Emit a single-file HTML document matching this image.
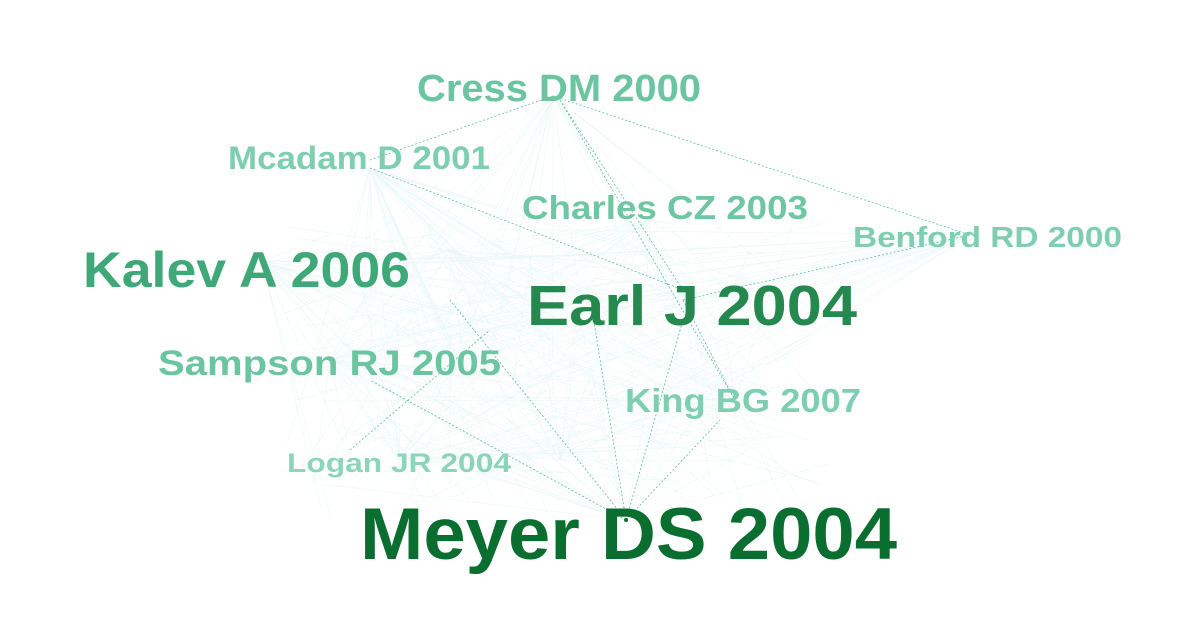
<!DOCTYPE html>
<html><head><meta charset="utf-8"><style>
html,body{margin:0;padding:0;background:#fff;}
svg{display:block;}
text{font-family:"Liberation Sans",Arial,sans-serif;font-weight:bold;}
</style></head><body>
<svg id="s" width="1191" height="636" viewBox="0 0 1191 636" xmlns="http://www.w3.org/2000/svg">
<g id="web" stroke="#d3efec" stroke-width="0.6" fill="none" opacity="0.45"></g>
<g stroke="#5cbf9a" stroke-width="0.8" stroke-dasharray="2 2" fill="none">
<line x1="553" y1="96" x2="970" y2="235"/>
<line x1="553" y1="96" x2="370" y2="160"/>
<line x1="560" y1="100" x2="683" y2="290"/>
<line x1="560" y1="100" x2="735" y2="400"/>
<line x1="370" y1="168" x2="683" y2="290"/>
<line x1="626" y1="520" x2="593" y2="316"/>
<line x1="626" y1="520" x2="683" y2="320"/>
<line x1="626" y1="520" x2="720" y2="420"/>
<line x1="626" y1="520" x2="370" y2="380"/>
<line x1="626" y1="520" x2="450" y2="300"/>
<line x1="683" y1="300" x2="970" y2="235"/>
<line x1="350" y1="450" x2="490" y2="330"/>
<line x1="683" y1="300" x2="735" y2="400"/>
</g>
<circle cx="626" cy="520" r="2" fill="#0b6e31"/>
<text x="417" y="101" font-size="38" fill="#6cc5a1" textLength="284" lengthAdjust="spacingAndGlyphs">Cress DM 2000</text>
<text x="228" y="169" font-size="32" fill="#7dcfb0" textLength="262" lengthAdjust="spacingAndGlyphs">Mcadam D 2001</text>
<text x="522" y="219" font-size="33" fill="#6fc6a3" textLength="286" lengthAdjust="spacingAndGlyphs">Charles CZ 2003</text>
<text x="853" y="247" font-size="29" fill="#7dcfb0" textLength="269" lengthAdjust="spacingAndGlyphs">Benford RD 2000</text>
<text x="83" y="287" font-size="50" fill="#3fa878" textLength="327" lengthAdjust="spacingAndGlyphs">Kalev A 2006</text>
<text x="527" y="325" font-size="57" fill="#25894f" textLength="330" lengthAdjust="spacingAndGlyphs">Earl J 2004</text>
<text x="158" y="375" font-size="35" fill="#6cc5a1" textLength="343" lengthAdjust="spacingAndGlyphs">Sampson RJ 2005</text>
<text x="625" y="412" font-size="33" fill="#7dcfb0" textLength="236" lengthAdjust="spacingAndGlyphs">King BG 2007</text>
<text x="287" y="472" font-size="27" fill="#8dd5b8" textLength="224" lengthAdjust="spacingAndGlyphs">Logan JR 2004</text>
<text x="360" y="559" font-size="73" fill="#0b6e31" textLength="537" lengthAdjust="spacingAndGlyphs">Meyer DS 2004</text>
</svg>
<script>
var hubs=[[553,96],[370,168],[970,235],[683,290],[626,520],[262,262],[735,400],[650,220],[330,360],[400,460],[560,460],[450,250]];
var g=document.getElementById('web');var seed=7;function r(){seed=(seed*9301+49297)%233280;return seed/233280;}
var h='';
for(var i=0;i<260;i++){var a=hubs[Math.floor(r()*hubs.length)];var x=280+r()*560,y=220+r()*300;
h+='<line x1="'+a[0]+'" y1="'+a[1]+'" x2="'+x.toFixed(1)+'" y2="'+y.toFixed(1)+'"/>';}
g.innerHTML=h;
</script>
</body></html>
